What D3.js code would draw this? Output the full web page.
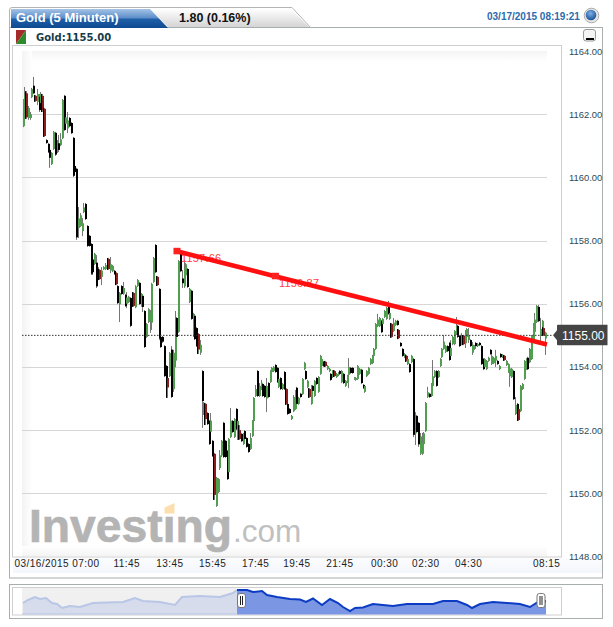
<!DOCTYPE html>
<html><head><meta charset="utf-8">
<script src="https://cdn.jsdelivr.net/npm/d3@7"></script>
<style>html,body{margin:0;padding:0;background:#fff;overflow:hidden}svg{display:block}text{font-family:"Liberation Sans",Arial,sans-serif}</style>
</head><body><div id="chart"></div>
<script>
const highs=[1162.48,1162.86,1162.73,1162.26,1162.07,1162.83,1163.18,1162.61,1162.80,1162.64,1162.70,1162.64,1162.20,1161.21,1161.09,1160.93,1160.80,1161.47,1161.44,1161.18,1161.34,1161.40,1162.48,1162.61,1162.04,1162.07,1161.91,1161.75,1161.28,1160.39,1160.30,1159.06,1158.87,1158.71,1159.19,1159.19,1158.49,1158.18,1157.92,1157.48,1157.61,1157.54,1157.16,1157.10,1157.16,1157.19,1157.29,1157.38,1157.45,1157.48,1157.23,1157.07,1157.00,1156.59,1156.37,1156.59,1156.69,1156.31,1156.37,1156.25,1156.21,1156.34,1156.37,1156.59,1156.78,1156.69,1156.34,1156.28,1155.80,1155.39,1155.86,1155.80,1156.66,1157.48,1157.89,1156.88,1156.50,1154.98,1154.98,1154.69,1154.06,1153.68,1154.47,1154.66,1154.54,1155.77,1155.58,1157.38,1157.70,1157.07,1157.38,1157.29,1157.13,1156.50,1156.44,1155.71,1155.65,1155.26,1155.07,1154.85,1153.90,1152.89,1152.86,1152.57,1152.32,1152.54,1151.69,1151.28,1150.52,1150.48,1151.37,1151.69,1152.26,1151.69,1151.37,1151.75,1152.70,1152.32,1152.38,1152.70,1152.32,1152.16,1151.91,1151.91,1152.00,1151.78,1151.59,1151.91,1152.32,1153.05,1153.43,1153.90,1153.49,1153.59,1153.49,1153.43,1153.65,1153.52,1153.90,1154.00,1154.03,1154.09,1154.00,1153.65,1153.68,1153.49,1153.87,1153.33,1152.86,1152.70,1152.48,1153.11,1153.27,1153.37,1153.05,1153.18,1153.65,1154.16,1153.90,1153.59,1153.33,1153.43,1153.43,1153.59,1153.68,1153.71,1154.38,1154.28,1154.19,1154.19,1154.06,1153.97,1153.81,1153.90,1153.90,1153.81,1153.84,1153.90,1153.90,1153.81,1153.59,1153.75,1154.28,1154.00,1154.00,1153.68,1153.68,1154.06,1153.97,1153.94,1153.46,1153.43,1153.90,1154.00,1154.28,1154.38,1154.60,1155.39,1155.68,1155.58,1155.49,1155.55,1155.80,1155.90,1156.09,1155.74,1155.39,1155.55,1155.49,1155.49,1155.20,1154.79,1154.60,1154.44,1154.38,1154.28,1154.12,1154.38,1154.28,1152.57,1152.48,1152.26,1151.91,1151.91,1151.94,1152.89,1153.37,1153.18,1153.49,1154.22,1153.90,1153.90,1153.90,1154.28,1154.60,1155.01,1154.69,1154.69,1154.79,1154.85,1154.98,1155.17,1155.58,1155.33,1155.01,1155.07,1155.01,1155.17,1155.23,1155.23,1154.88,1154.79,1154.69,1154.79,1154.76,1154.79,1154.69,1154.28,1154.28,1154.22,1154.32,1154.57,1154.44,1154.32,1154.54,1154.22,1154.06,1154.44,1154.41,1154.38,1154.22,1154.12,1154.06,1153.97,1153.90,1153.05,1152.86,1152.70,1153.43,1153.49,1154.22,1154.28,1154.32,1154.60,1155.01,1155.39,1155.71,1155.96,1155.96,1155.55,1155.49,1155.26,1155.11];
const lows=[1161.59,1161.91,1161.85,1161.82,1161.82,1162.51,1162.64,1162.39,1162.29,1162.07,1162.32,1162.07,1161.28,1161.06,1160.77,1160.30,1160.39,1160.87,1160.68,1160.77,1160.80,1160.99,1161.21,1161.47,1161.50,1161.40,1161.59,1161.37,1160.01,1160.14,1158.02,1158.08,1158.43,1158.14,1158.87,1158.65,1157.80,1157.80,1156.91,1156.91,1157.23,1156.50,1156.75,1156.75,1156.59,1157.07,1157.07,1157.13,1157.07,1156.97,1157.00,1156.91,1156.59,1155.99,1155.42,1156.28,1156.28,1155.90,1155.86,1156.02,1155.26,1155.96,1155.90,1155.86,1156.53,1155.96,1155.90,1155.74,1154.60,1154.92,1155.39,1155.08,1155.17,1156.66,1156.97,1156.56,1154.85,1154.60,1154.76,1153.68,1153.49,1153.02,1153.68,1153.02,1153.21,1153.99,1154.92,1155.08,1157.00,1156.50,1156.50,1156.85,1156.50,1156.02,1155.49,1154.95,1154.85,1154.63,1154.41,1154.38,1152.07,1152.48,1152.16,1152.16,1151.53,1151.85,1151.15,1149.79,1149.57,1150.01,1150.74,1151.15,1151.12,1151.12,1150.42,1150.64,1151.75,1151.91,1151.75,1152.00,1151.69,1151.69,1151.62,1151.53,1151.69,1151.44,1151.28,1151.37,1151.78,1152.26,1153.05,1153.05,1153.05,1153.27,1153.05,1153.02,1152.57,1153.02,1153.49,1153.81,1153.84,1153.81,1153.49,1153.33,1153.27,1153.27,1153.27,1152.80,1152.48,1152.51,1152.32,1152.57,1152.64,1152.80,1152.80,1153.02,1153.11,1153.90,1153.59,1153.33,1153.02,1152.80,1153.21,1153.05,1153.43,1153.18,1153.75,1154.00,1154.00,1154.00,1153.90,1153.84,1153.56,1153.65,1153.68,1153.65,1153.71,1153.75,1153.49,1153.46,1153.37,1153.49,1153.33,1153.78,1153.78,1153.59,1153.56,1153.59,1153.75,1153.46,1153.30,1153.18,1153.68,1153.75,1154.06,1154.09,1154.32,1154.54,1155.26,1155.26,1155.07,1155.33,1155.55,1155.49,1155.65,1155.49,1154.92,1155.11,1155.30,1155.30,1154.88,1154.63,1154.32,1154.28,1154.16,1154.06,1153.81,1154.12,1151.78,1151.53,1151.91,1151.47,1151.21,1151.21,1151.53,1151.94,1153.02,1153.02,1153.05,1153.37,1153.65,1153.37,1153.65,1154.00,1154.28,1154.54,1154.44,1154.47,1154.19,1154.32,1154.69,1154.69,1155.01,1154.92,1154.63,1154.69,1154.69,1154.60,1154.92,1154.76,1154.63,1154.38,1154.54,1154.63,1154.63,1154.66,1154.06,1153.90,1153.97,1153.90,1154.16,1154.38,1154.06,1154.09,1154.00,1154.06,1153.90,1154.28,1154.28,1154.19,1154.03,1153.81,1153.37,1153.65,1152.95,1152.48,1152.29,1152.29,1152.57,1153.27,1153.59,1153.90,1153.90,1154.12,1154.22,1154.85,1155.08,1155.39,1155.42,1154.79,1155.17,1154.98,1154.38];
const opens=[1161.62,1162.00,1162.66,1161.88,1161.88,1162.54,1162.90,1162.58,1162.39,1162.55,1162.35,1162.58,1162.17,1161.18,1161.06,1160.87,1160.42,1160.90,1161.41,1160.90,1161.08,1161.02,1161.24,1162.58,1161.70,1161.55,1161.88,1161.72,1161.25,1160.36,1160.27,1158.40,1158.46,1158.30,1158.90,1159.16,1158.46,1158.15,1157.89,1157.40,1157.26,1157.30,1156.80,1157.07,1156.85,1157.09,1157.10,1157.35,1157.42,1157.05,1157.03,1157.04,1156.97,1156.56,1155.98,1156.56,1156.32,1156.28,1156.00,1156.05,1156.18,1155.99,1156.34,1155.89,1156.56,1156.66,1155.93,1156.25,1155.77,1154.95,1155.42,1155.45,1155.40,1156.69,1157.86,1156.85,1156.47,1154.95,1154.95,1154.66,1154.03,1153.65,1153.71,1154.55,1153.30,1154.20,1155.55,1155.11,1157.67,1156.80,1156.55,1156.90,1157.10,1156.05,1156.41,1155.00,1155.62,1155.23,1155.04,1154.45,1153.87,1152.51,1152.83,1152.54,1152.29,1151.95,1151.66,1151.25,1149.60,1150.04,1150.80,1151.20,1152.23,1151.66,1151.34,1150.67,1151.78,1152.29,1151.78,1152.67,1151.72,1152.00,1151.88,1151.56,1151.97,1151.75,1151.56,1151.40,1151.81,1152.29,1153.08,1153.87,1153.08,1153.30,1153.46,1153.40,1153.00,1153.49,1153.52,1153.84,1153.87,1154.06,1153.97,1153.36,1153.65,1153.30,1153.84,1153.30,1152.83,1152.67,1152.35,1152.60,1152.67,1153.34,1152.83,1153.15,1153.14,1153.93,1153.87,1153.36,1153.30,1152.83,1153.40,1153.08,1153.65,1153.21,1153.78,1154.03,1154.16,1154.16,1153.93,1153.87,1153.78,1153.68,1153.87,1153.68,1153.74,1153.87,1153.52,1153.78,1153.40,1153.52,1153.75,1153.97,1153.97,1153.62,1153.59,1153.62,1153.78,1153.91,1153.43,1153.21,1153.71,1153.78,1154.09,1154.12,1154.35,1154.57,1155.29,1155.29,1155.46,1155.36,1155.58,1155.52,1156.00,1155.52,1155.36,1155.14,1155.33,1155.46,1155.17,1154.76,1154.57,1154.31,1154.35,1154.09,1154.09,1154.15,1154.25,1151.90,1152.45,1152.23,1151.25,1151.25,1151.56,1151.97,1153.05,1153.15,1153.08,1153.40,1153.68,1153.87,1153.68,1154.03,1154.31,1154.57,1154.47,1154.66,1154.76,1154.35,1154.72,1154.72,1155.04,1155.30,1154.98,1154.72,1154.98,1154.75,1154.95,1154.85,1154.85,1154.45,1154.57,1154.76,1154.66,1154.76,1154.66,1154.25,1154.00,1153.93,1154.19,1154.54,1154.09,1154.12,1154.20,1154.19,1153.93,1154.41,1154.31,1154.35,1154.06,1153.84,1153.70,1153.68,1153.87,1152.51,1152.83,1152.67,1152.60,1153.30,1153.62,1153.93,1154.29,1154.15,1154.25,1154.88,1155.11,1155.42,1155.90,1155.00,1155.20,1155.23,1154.90];
const closes=[1162.45,1162.60,1161.90,1162.20,1162.00,1162.80,1162.66,1162.42,1162.64,1162.13,1162.64,1162.13,1161.31,1161.09,1160.80,1160.62,1160.77,1161.44,1160.72,1161.10,1160.87,1161.20,1162.45,1161.50,1161.90,1161.80,1161.62,1161.40,1160.05,1160.17,1158.10,1158.70,1158.80,1158.55,1159.05,1158.68,1157.83,1157.83,1156.95,1157.00,1157.58,1156.55,1157.10,1156.78,1157.05,1157.16,1157.22,1157.16,1157.10,1157.25,1157.20,1156.94,1156.62,1156.02,1156.34,1156.31,1156.50,1155.93,1156.20,1156.22,1155.30,1156.31,1155.93,1156.55,1156.75,1155.99,1156.31,1155.90,1154.63,1155.36,1155.83,1155.70,1156.63,1157.45,1157.00,1156.59,1154.90,1154.63,1154.80,1153.71,1153.52,1153.35,1154.44,1153.05,1154.45,1155.20,1154.95,1157.35,1157.03,1156.65,1157.10,1157.25,1156.53,1156.47,1155.52,1155.68,1154.88,1154.66,1154.55,1154.70,1152.92,1152.86,1152.35,1152.19,1151.56,1152.30,1151.18,1149.95,1150.49,1150.45,1151.20,1151.66,1151.15,1151.15,1150.45,1151.72,1152.30,1151.94,1152.35,1152.03,1152.29,1151.72,1151.65,1151.88,1151.72,1151.47,1151.31,1151.75,1152.29,1153.02,1153.30,1153.08,1153.40,1153.50,1153.08,1153.05,1153.40,1153.05,1153.87,1153.97,1154.00,1153.84,1153.52,1153.62,1153.30,1153.46,1153.30,1152.83,1152.51,1152.54,1152.45,1153.05,1153.24,1152.83,1153.02,1153.05,1153.62,1154.13,1153.62,1153.56,1153.05,1153.40,1153.24,1153.56,1153.46,1153.68,1154.35,1154.25,1154.03,1154.03,1154.03,1153.94,1153.59,1153.87,1153.71,1153.78,1153.81,1153.78,1153.87,1153.49,1153.56,1153.72,1154.00,1153.81,1153.81,1153.65,1153.65,1154.03,1153.94,1153.49,1153.33,1153.40,1153.87,1153.97,1154.25,1154.35,1154.57,1155.36,1155.50,1155.55,1155.10,1155.52,1155.77,1155.87,1155.68,1155.71,1154.95,1155.40,1155.46,1155.33,1154.91,1154.66,1154.35,1154.41,1154.19,1154.25,1153.84,1154.35,1151.85,1152.30,1151.94,1151.55,1151.80,1151.60,1151.90,1152.86,1153.20,1153.05,1153.46,1153.70,1153.87,1153.40,1153.87,1154.25,1154.57,1154.80,1154.66,1154.50,1154.22,1154.60,1154.95,1155.14,1155.30,1154.95,1154.66,1154.95,1154.72,1154.95,1155.20,1155.00,1154.66,1154.70,1154.66,1154.66,1154.73,1154.69,1154.09,1153.93,1154.25,1154.19,1154.29,1154.41,1154.35,1154.29,1154.35,1154.09,1154.03,1154.31,1154.38,1154.22,1154.19,1154.09,1153.95,1153.94,1152.98,1152.80,1152.32,1152.32,1153.40,1153.46,1154.19,1154.25,1153.93,1154.57,1154.98,1155.36,1155.50,1155.93,1155.45,1155.20,1155.46,1155.00,1155.08];
const redBars=[2,7,11,12,43,48,52,62,75,81,98,102,107,121,147,160,169,174,206,210,214,246,269,277,291];
const priceTicks=[1164,1162,1160,1158,1156,1154,1152,1150,1148];
const timeTickIndex=[0,58,82,106,130,153,177,202,225,249,292];
const timeTickLabels=["03/16/2015 07:00","11:45","13:45","15:45","17:45","19:45","21:45","00:30","02:30","04:30","08:15"];
const lastPrice=1155.00;
const trendIndex=[86.3,141,293];
const trendPrices=[1157.66,1156.87,1154.71];
const trendLabels=["1157.66","1156.87"];
const overviewPos=[1,6,13,18,24,30,35,40,48,58,71,85,101,113,121,138,153,160,178,198,211,215,225,231,240,245,255,268,278,284,291,300,308,316,321,328,333,341,351,371,385,401,411,421,435,445,450,458,471,485,498,508,516,524];
const overviewVals=[1151.5,1154.5,1157.5,1155.5,1156.5,1151.5,1150.5,1146.5,1148.5,1147.5,1151.5,1152,1152.5,1156.5,1153.5,1152.5,1149.5,1157.5,1158.5,1157.5,1161.5,1164.5,1164.5,1162.5,1163.5,1159.5,1157.5,1155.5,1155,1152.5,1156,1149.5,1155.5,1151.5,1147.5,1143.5,1146.5,1147,1150.5,1148.5,1150.5,1150.5,1150.5,1153.5,1153.5,1149.5,1146.5,1150.5,1152.5,1151.5,1150.5,1147.5,1152.5,1153.5];
const overviewEndPos=524;
const selectedFrom=214.5;

const W=613,H=627;
const x=d3.scaleLinear().domain([0,292]).range([22.5,545.2]);
const y=d3.scaleLinear().domain([1148,1164]).range([556.5,51]);
const svg=d3.select("#chart").append("svg").attr("width",W).attr("height",H);
const defs=svg.append("defs");
function grad(id,stops,x2,y2){const g=defs.append("linearGradient").attr("id",id).attr("x1",0).attr("y1",0).attr("x2",x2).attr("y2",y2);
 stops.forEach(s=>g.append("stop").attr("offset",s[0]).attr("stop-color",s[1]));}
grad("blueTab",[[0,"#a4c3e6"],[0.45,"#5f90cb"],[0.55,"#1e5fa8"],[1,"#0d4a90"]],0,1);
grad("grayTab",[[0,"#ffffff"],[1,"#d4d4d4"]],0,1);
grad("fadeLeft",[[0,"#f3f3f3"],[1,"#ffffff"]],1,0);
grad("fadeTop",[[0,"#f4f4f4"],[1,"#ffffff"]],0,1);
grad("fadeBot",[[0,"#ffffff"],[1,"#f4f4f4"]],0,1);
grad("axisBg",[[0,"#fbfcfe"],[1,"#f3f6fc"]],0,1);
const rg=defs.append("radialGradient").attr("id","ball").attr("cx","45%").attr("cy","35%").attr("r","70%");
rg.append("stop").attr("offset",0).attr("stop-color","#7fb0e6");rg.append("stop").attr("offset",1).attr("stop-color","#0f4a90");

// outer frames
svg.append("path").attr("d","M9.5,28 V10 Q9.5,7.5 12,7.5 H292 L311,28").attr("fill","none").attr("stroke","#b4b4b4");
svg.append("rect").attr("x",9.5).attr("y",27.5).attr("width",593).attr("height",550.5).attr("fill","#fff").attr("stroke","#a8adad");
svg.append("path").attr("d","M150,9 H291 L309,27 H168 Z").attr("fill","url(#grayTab)");
svg.append("path").attr("d","M11,9 H150 L168,28 H11 Z").attr("fill","url(#blueTab)");
svg.append("text").attr("x",16).attr("y",21.5).attr("fill","#fff").attr("font-size",13).attr("font-weight","bold").text("Gold (5 Minuten)");
svg.append("text").attr("x",179).attr("y",21.5).attr("fill","#111").attr("font-size",12.5).attr("font-weight","bold").text("1.80 (0.16%)");
svg.append("text").attr("x",487).attr("y",20).attr("fill","#2a6cae").attr("font-size",10).attr("font-weight","bold").text("03/17/2015 08:19:21");
svg.append("circle").attr("cx",591.5).attr("cy",15.5).attr("r",7.3).attr("fill","#e8e8e8").attr("stroke","#aaa");
svg.append("circle").attr("cx",591).attr("cy",15).attr("r",5.3).attr("fill","url(#ball)");
// legend
svg.append("path").attr("d","M16,30 H26 L16,44 Z").attr("fill","#a52a2a");
svg.append("path").attr("d","M26,30 V44 H16 Z").attr("fill","#2c8c2c");
svg.append("text").attr("x",36).attr("y",40.5).attr("fill","#163a4a").attr("font-size",10).attr("font-weight","bold").style("font-family","'DejaVu Sans'").text("Gold:1155.00");
// minimise button
svg.append("rect").attr("x",583.5).attr("y",29.5).attr("width",12).attr("height",11.5).attr("rx",2.5).attr("fill","#f4f4f4").attr("stroke","#9a9a9a");
svg.append("rect").attr("x",586).attr("y",38).attr("width",8).attr("height",2).attr("fill","#000");

// plot box
svg.append("rect").attr("x",12.5).attr("y",45.5).attr("width",549).attr("height",511.5).attr("fill","#fff").attr("stroke","#cfcfcf");
svg.append("rect").attr("x",22).attr("y",51).attr("width",525).attr("height",10).attr("fill","url(#fadeTop)");
svg.append("rect").attr("x",22).attr("y",51).attr("width",10).attr("height",505).attr("fill","url(#fadeLeft)");
svg.append("rect").attr("x",22).attr("y",546).attr("width",525).attr("height",10).attr("fill","url(#fadeBot)");
svg.append("rect").attr("x",13).attr("y",558).attr("width",589).attr("height",15).attr("fill","url(#axisBg)");

// grid
svg.append("g").selectAll("line").data(priceTicks.filter(d=>d>1148&&d<1164)).join("line")
 .attr("x1",22).attr("x2",547).attr("y1",d=>Math.round(y(d))+0.5).attr("y2",d=>Math.round(y(d))+0.5)
 .attr("stroke","#d6d6d6").attr("stroke-width",1.2);

// watermark
const wm=svg.append("g");
wm.append("text").attr("x",29).attr("y",541.5).attr("font-size",47).attr("font-weight","bold").attr("fill","#b4b4b4").attr("stroke","#b4b4b4").attr("stroke-width",0.7).attr("textLength",203).attr("lengthAdjust","spacingAndGlyphs").text("Investing");
wm.append("text").attr("x",233).attr("y",541.5).attr("font-size",31.5).attr("fill","#c0c0c0").text(".com");
wm.append("path").attr("d","M164.5,507.5 L174.5,503 V513.5 H164.5 Z").attr("fill","#fbdfae");

// candles
const candles=svg.append("g");
const idx=d3.range(highs.length);
candles.selectAll("line").data(idx).join("line")
 .attr("x1",i=>Math.round(x(i))+0.5).attr("x2",i=>Math.round(x(i))+0.5)
 .attr("y1",i=>y(highs[i])).attr("y2",i=>y(lows[i]))
 .attr("stroke","#767676").attr("stroke-width",1);
candles.selectAll("rect").data(idx).join("rect")
 .attr("x",i=>Math.round(x(i))-0.0)
 .attr("y",i=>y(Math.max(opens[i],closes[i])))
 .attr("width",2)
 .attr("height",i=>Math.max(1,Math.abs(y(opens[i])-y(closes[i]))))
 .attr("fill",i=>redBars.includes(i)?"#8c1c1c":closes[i]>=opens[i]?"#4f9f4f":"#000");
candles.selectAll("line.edge").data(redBars).join("line").attr("class","edge")
 .attr("x1",i=>Math.round(x(i))-0.5).attr("x2",i=>Math.round(x(i))-0.5)
 .attr("y1",i=>y(highs[i])).attr("y2",i=>y(lows[i])).attr("stroke","#000");

// last price line
svg.append("line").attr("x1",22).attr("x2",553).attr("y1",y(lastPrice)).attr("y2",y(lastPrice)).attr("stroke","#333").attr("stroke-dasharray","1.5,1.5");

// trend labels and line
svg.selectAll("text.tl").data(trendLabels).join("text").attr("class","tl")
 .attr("x",(d,i)=>x(trendIndex[i])+4).attr("y",(d,i)=>y(trendPrices[i])+11)
 .attr("fill","#ff4040").attr("font-size",11).attr("letter-spacing",0.2).text(d=>d);
const tl=d3.line().x((d,i)=>x(trendIndex[i])).y(d=>y(d));
svg.append("path").attr("d",tl(trendPrices)).attr("fill","none").attr("stroke","#ff0f0f").attr("stroke-width",4.6);
svg.selectAll("rect.h").data(trendLabels).join("rect").attr("class","h")
 .attr("x",(d,i)=>x(trendIndex[i])-(i?3:3.5)).attr("y",(d,i)=>y(trendPrices[i])-3.5)
 .attr("width",7).attr("height",6.5).attr("fill","#ff2020");

// axes
const yAxis=d3.axisRight(y).tickValues(priceTicks).tickFormat(d3.format(".2f")).tickSize(0).tickPadding(0);
const ga=svg.append("g").attr("transform","translate(569,0)").call(yAxis);
ga.select(".domain").remove();
ga.selectAll("text").attr("font-size",9.4).attr("fill","#2c4b55").style("font-family","'Liberation Sans'");
const xAxis=d3.axisBottom(x).tickValues(timeTickIndex).tickFormat((d,i)=>timeTickLabels[i]).tickSize(0).tickPadding(0);
const gx=svg.append("g").attr("transform","translate(0,560)").call(xAxis);
gx.select(".domain").remove();
gx.selectAll("text").attr("font-size",10).attr("fill","#222").attr("letter-spacing",0.45).attr("dy",0).attr("y",0).attr("dominant-baseline","hanging").style("font-family","'Liberation Sans'");
gx.selectAll("text").filter((d,i)=>i===0).attr("text-anchor","start").attr("x",-8.5);
gx.selectAll("text").filter((d,i)=>i===timeTickIndex.length-1).attr("x",1);

// callout
const cy=y(lastPrice);
svg.append("path").attr("d",`M553,${cy} L557,${cy-5} V${cy-9.5} Q557,${cy-10.5} 558,${cy-10.5} H607.5 V${cy+10} H558 Q557,${cy+10} 557,${cy+9} V${cy+5} Z`).attr("fill","#444");
svg.append("text").attr("x",562).attr("y",cy+4.2).attr("fill","#fff").attr("font-size",12).text(d3.format(".2f")(lastPrice));

// navigator
svg.append("rect").attr("x",9.5).attr("y",584.5).attr("width",593).attr("height",34).attr("fill","#fff").attr("stroke","#a8adad");
svg.append("rect").attr("x",12.5).attr("y",587.5).attr("width",549).attr("height",27.5).attr("fill","#fff").attr("stroke","#cfcfcf");
const nx=d3.scaleLinear().domain([0,overviewEndPos]).range([22,546]);
const ny=d3.scaleLinear().domain([1140,1168]).range([614.5,586.5]);
svg.append("rect").attr("x",22).attr("y",588).attr("width",nx(selectedFrom)-22).attr("height",26.5).attr("fill","#f0f0f0");
const area=d3.area().x(d=>nx(d[0])).y0(ny(1140)).y1(d=>ny(d[1]));
const ln=d3.line().x(d=>nx(d[0])).y(d=>ny(d[1]));
const pts=overviewPos.map((p,i)=>[p,overviewVals[i]]);
const left=pts.filter(d=>d[0]<=selectedFrom+1), right=pts.filter(d=>d[0]>=selectedFrom);
svg.append("path").attr("d",area(left)).attr("fill","#d6dcec");
svg.append("path").attr("d",ln(left)).attr("fill","none").attr("stroke","#b9c6e6").attr("stroke-width",2);
svg.append("path").attr("d",area(right)).attr("fill","#7b96e2");
svg.append("path").attr("d",ln(right)).attr("fill","none").attr("stroke","#0c3cc4").attr("stroke-width",2);
svg.append("line").attr("x1",22).attr("x2",nx(selectedFrom)).attr("y1",614).attr("y2",614).attr("stroke","#b9c6e6");
[nx(selectedFrom)+5,541].forEach(hx=>{
 svg.append("rect").attr("x",hx-4).attr("y",593.5).attr("width",8).attr("height",14).attr("rx",2.5).attr("fill","#fff").attr("stroke","#777");
 [-1,1].forEach(o=>svg.append("line").attr("x1",hx+o).attr("x2",hx+o).attr("y1",596).attr("y2",605).attr("stroke","#222"));
});
</script></body></html>
